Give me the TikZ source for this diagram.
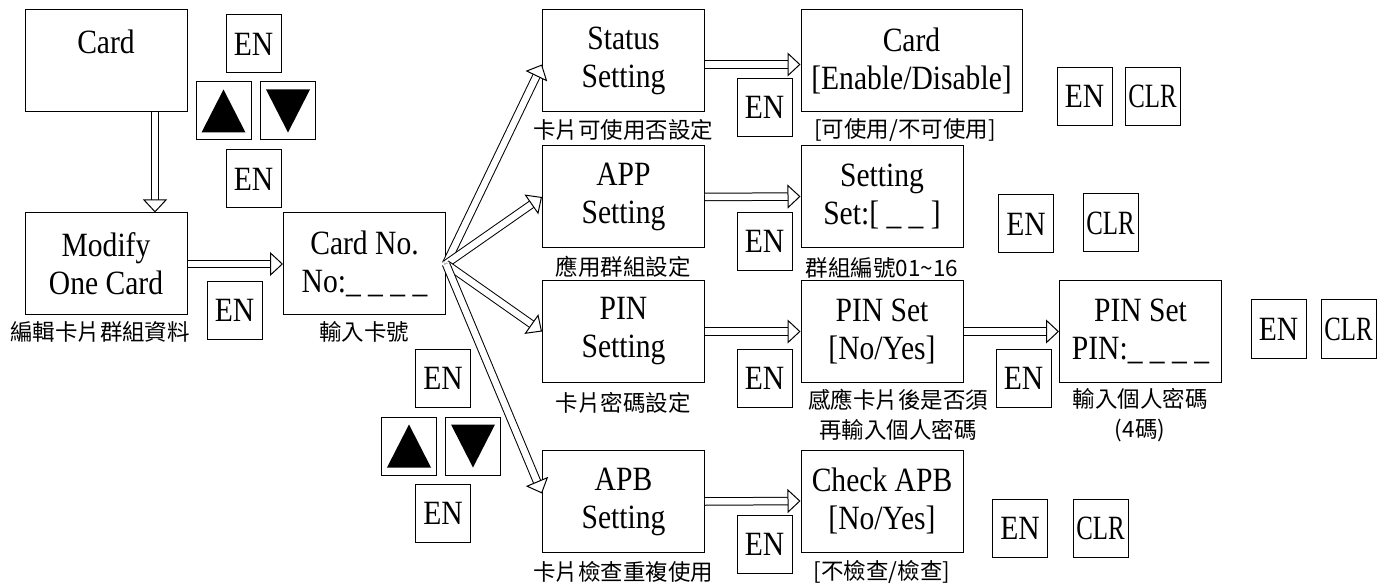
\documentclass[tikz,border=0pt]{standalone}
\usepackage{fontspec}
\setmainfont{Liberation Serif}[FakeStretch=0.87]
\newfontfamily\cjk{Noto Sans CJK TC}
\usetikzlibrary{arrows.meta}

\tikzset{
  screen/.style={draw, line width=1pt, minimum width=162pt, minimum height=102pt,
    inner sep=0pt, align=center, font=\fontsize{34}{38}\selectfont},
  key/.style={draw, line width=1pt, minimum width=55pt, minimum height=58pt,
    inner sep=0pt, font=\fontsize{34}{38}\selectfont},
  upkey/.style={key, path picture={\fill (path picture bounding box.center)
    ++(-22pt,-21.5pt) -- ++(44pt,0pt) -- ++(-22pt,43pt) -- cycle;}},
  downkey/.style={key, path picture={\fill (path picture bounding box.center)
    ++(-22pt,21.5pt) -- ++(44pt,0pt) -- ++(-22pt,-43pt) -- cycle;}},
  note/.style={inner sep=0pt, align=center, font=\cjk\fontsize{22.5}{30}\selectfont},
  flow/.style={double, double distance=6.5pt, line width=1pt,
    -{Triangle[length=13pt, width=24pt, fill=white, line width=1pt]}},
}

\begin{document}
\begin{tikzpicture}[x=1pt, y=-1pt]
  \useasboundingbox (0,0) rectangle (1387,585);

  % screens
  \node[screen] (card) at (106,61) {Card\\\mbox{}};
  \node[screen] (modify) at (106,264) {Modify\\One Card};
  \node[screen] (cardno) at (364.5,264) {Card No.\\No:\_ \_ \_ \_};
  \node[screen] (status) at (623.5,60.5) {Status\\Setting};
  \node[screen, minimum width=221pt] (enable) at (911.5,60.5) {Card\\{[}Enable/Disable{]}};
  \node[screen] (app) at (623.5,197) {APP\\Setting};
  \node[screen] (group) at (882,196.5) {Setting\\Set:{[} \_ \_ {]}};
  \node[screen] (pin) at (623.5,331.5) {PIN\\Setting};
  \node[screen] (pinset) at (882,331.5) {PIN Set\\{[}No/Yes{]}};
  \node[screen] (pinnum) at (1140.5,331.5) {PIN Set\\PIN:\_ \_ \_ \_};
  \node[screen] (apb) at (623.5,501.5) {APB\\Setting};
  \node[screen] (checkapb) at (882,501) {Check APB\\{[}No/Yes{]}};

  % notes
  \node[note] (nmodify) at (100,332) {編輯卡片群組資料};
  \node[note] (ncardno) at (364,332) {輸入卡號};
  \node[note] (nstatus) at (623,130) {卡片可使用否設定};
  \node[note] (nenable) at (905,130) {[可使用/不可使用]};
  \node[note] (napp) at (623,267) {應用群組設定};
  \node[note] (ngroup) at (882,268) {群組編號01\textasciitilde16};
  \node[note] (npin) at (623,403) {卡片密碼設定};
  \node[note] (npinset) at (898,415) {感應卡片後是否須\\再輸入個人密碼};
  \node[note] (npinnum) at (1140,415) {輸入個人密碼\\(4碼)};
  \node[note] (napb) at (623,572) {卡片檢查重複使用};
  \node[note] (ncheck) at (882,572) {[不檢查/檢查]};

  % keys
  \node[key] (enA) at (253.5,44) {EN};
  \node[upkey] (upA) at (223.5,111) {};
  \node[downkey] (downA) at (288,111) {};
  \node[key] (enB) at (253.5,179) {EN};
  \node[key] (enC) at (234.5,310.5) {EN};
  \node[key] (enD) at (764.5,107.5) {EN};
  \node[key] (enE) at (1084.5,96.5) {EN};
  \node[key] (clrE) at (1152.5,96.5) {\scalebox{0.84}[1]{CLR}};
  \node[key] (enF) at (764.5,241.5) {EN};
  \node[key] (enG) at (1026,224) {EN};
  \node[key] (clrG) at (1110.5,223) {\scalebox{0.84}[1]{CLR}};
  \node[key] (enH) at (764.5,378.5) {EN};
  \node[key] (enI) at (1023.5,378) {EN};
  \node[key] (enJ) at (1278.5,329) {EN};
  \node[key] (clrJ) at (1348.5,329) {\scalebox{0.84}[1]{CLR}};
  \node[key] (enK) at (764.5,544) {EN};
  \node[key] (enL) at (1020,528.5) {EN};
  \node[key] (clrL) at (1100.5,528) {\scalebox{0.84}[1]{CLR}};
  \node[key] (enM) at (443,378.5) {EN};
  \node[upkey] (upM) at (409,446) {};
  \node[downkey] (downM) at (473,446) {};
  \node[key] (enN) at (443,513.5) {EN};

  % arrows
  \draw[flow] ([xshift=49pt]card.south) -- ([xshift=49pt]modify.north);
  \draw[flow] (modify.east) -- (cardno.west);
  \draw[flow] (cardno.east) -- ([yshift=-4pt]status.west);
  \draw[flow] (cardno.east) -- (app.west);
  \draw[flow] (cardno.east) -- (pin.west);
  \draw[flow] (cardno.east) -- ([yshift=8pt]apb.west);
  \draw[flow] ([yshift=-4pt]status.east) -- ([yshift=-4pt]enable.west);
  \draw[flow] (app.east) -- (group.west);
  \draw[flow] (pin.east) -- (pinset.west);
  \draw[flow] (pinset.east) -- (pinnum.west);
  \draw[flow] (apb.east) -- (checkapb.west);
\end{tikzpicture}
\end{document}
